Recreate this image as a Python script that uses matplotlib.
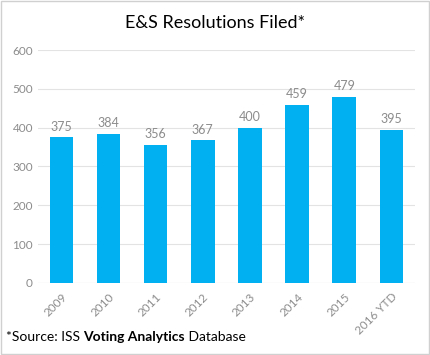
import matplotlib.pyplot as plt
from matplotlib.patches import Rectangle

years = ['2009', '2010', '2011', '2012', '2013', '2014', '2015', '2016 YTD']
filed = [375, 384, 356, 367, 400, 459, 479, 395]
yticks = [0, 100, 200, 300, 400, 500, 600]

plt.rcParams['font.family'] = ['Lato', 'DejaVu Sans']

fig = plt.figure(figsize=(4.3, 3.55), dpi=100)
ax = fig.add_axes([0.088, 0.203, 0.877, 0.656])

x = range(len(years))
bars = ax.bar(x, filed, width=0.5, color='#00B0F0', zorder=3)
for i, v in zip(x, filed):
    ax.text(i, v + 12, str(v), ha='center', va='bottom', fontsize=9, color='#8c8c8c')

ax.set_xlim(-0.5, len(years) - 0.5)
ax.set_ylim(0, 600)
ax.set_yticks(yticks)
ax.set_xticks(list(x))
ax.set_xticklabels(years, rotation=45, ha='right', rotation_mode='anchor')
ax.tick_params(axis='both', length=0, labelsize=8.5, colors='#8c8c8c')
ax.tick_params(axis='x', pad=6)
ax.grid(axis='y', color='#e3e3e3', linewidth=0.8, zorder=0)
for s in ax.spines.values():
    s.set_visible(False)
ax.axhline(0, color='#d9d9d9', linewidth=0.8, zorder=2)

fig.text(0.5, 0.935, 'E&S Resolutions Filed*', ha='center', va='center', fontsize=13, color='#000000')

# source note with a bold middle part
fig.canvas.draw()
rend = fig.canvas.get_renderer()
xpos = 6 / 430
ypos = 0.052
for part, wt in [('*Source: ISS ', 'normal'), ('Voting Analytics', 'bold'), (' Database', 'normal')]:
    t = fig.text(xpos, ypos, part, fontsize=10, fontweight=wt, color='#000000', va='center')
    bb = t.get_window_extent(renderer=rend)
    xpos = fig.transFigure.inverted().transform((bb.x1, 0))[0]

fig.patches.append(Rectangle((0.002, 0.003), 0.995, 0.994, transform=fig.transFigure,
                             fill=False, edgecolor='#d0d0d0', linewidth=1))

fig.savefig('out.png', dpi=100)
